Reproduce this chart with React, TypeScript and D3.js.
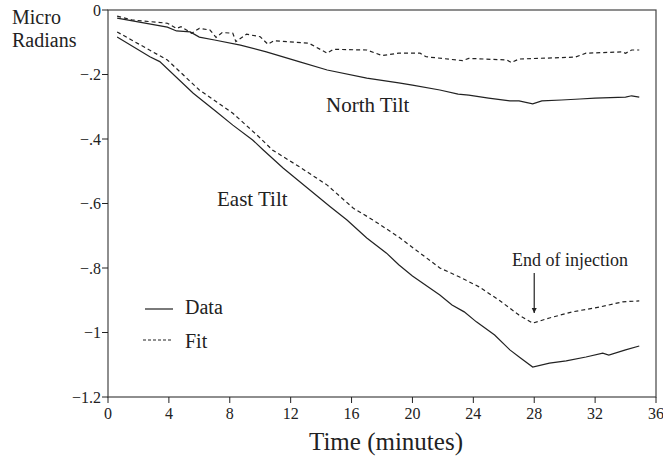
import React from "react";
import * as d3 from "d3";

const WIDTH = 663;
const HEIGHT = 458;
const M = { left: 108, top: 10, right: 656, bottom: 397 };

// [minutes, micro radians]
const northData: [number, number][] = [
  [0.6, -0.025], [3.9, -0.053], [4.5, -0.065], [5.4, -0.068], [6.0, -0.084],
  [7.0, -0.093], [8.7, -0.109], [10.4, -0.13], [12.6, -0.161], [14.4, -0.186],
  [17.0, -0.211], [19.1, -0.226], [20.0, -0.233], [21.8, -0.248], [23.0, -0.261],
  [23.7, -0.264], [25.0, -0.273], [26.4, -0.282], [27.0, -0.282], [27.9, -0.291],
  [28.5, -0.282], [29.8, -0.279], [31.0, -0.276], [32.0, -0.273], [34.0, -0.27],
  [34.4, -0.266], [34.9, -0.27],
];

const northFit: [number, number][] = [
  [0.6, -0.019], [1.6, -0.031], [3.9, -0.041], [4.5, -0.057], [4.8, -0.052],
  [5.5, -0.072], [6.0, -0.057], [6.7, -0.062], [7.1, -0.085], [7.5, -0.07],
  [8.2, -0.072], [8.4, -0.098], [9.1, -0.075], [10.0, -0.083], [10.5, -0.106],
  [10.9, -0.095], [13.2, -0.103], [14.4, -0.134], [14.8, -0.122], [17.0, -0.124],
  [18.0, -0.141], [19.1, -0.134], [20.5, -0.134], [20.9, -0.145], [23.3, -0.157],
  [23.7, -0.15], [26.2, -0.155], [26.5, -0.163], [27.0, -0.152], [30.7, -0.146],
  [31.4, -0.134], [33.8, -0.13], [34.0, -0.134], [34.4, -0.124], [34.9, -0.124],
];

const eastData: [number, number][] = [
  [0.6, -0.084], [2.75, -0.145], [3.4, -0.16], [5.6, -0.258], [7.1, -0.315],
  [8.2, -0.357], [9.5, -0.403], [10.2, -0.434], [11.5, -0.49], [13.0, -0.548],
  [14.6, -0.61], [15.7, -0.651], [17.0, -0.707], [18.3, -0.754], [19.1, -0.79],
  [20.0, -0.825], [21.8, -0.884], [22.6, -0.915], [23.4, -0.936], [24.2, -0.967],
  [25.4, -1.008], [26.4, -1.054], [27.1, -1.079], [27.9, -1.107], [29.0, -1.095],
  [30.1, -1.088], [31.4, -1.076], [32.5, -1.064], [32.9, -1.07], [34.0, -1.054],
  [34.9, -1.042],
];

const eastFit: [number, number][] = [
  [0.6, -0.068], [3.9, -0.155], [6.0, -0.248], [8.2, -0.32], [10.0, -0.397],
  [10.8, -0.434], [12.6, -0.487], [14.4, -0.543], [16.1, -0.614], [17.4, -0.651],
  [19.1, -0.704], [21.8, -0.8], [23.1, -0.828], [24.4, -0.859], [25.7, -0.9],
  [27.0, -0.946], [27.9, -0.971], [29.0, -0.955], [30.5, -0.936], [32.3, -0.921],
  [33.8, -0.905], [34.9, -0.902],
];

const xTicks = [0, 4, 8, 12, 16, 20, 24, 28, 32, 36];
const yTicks = [0, -0.2, -0.4, -0.6, -0.8, -1, -1.2];
const yTickLabels = ["0", "\u2212.2", "\u2212.4", "\u2212.6", "\u2212.8", "\u22121", "\u22121.2"];
const injectionEnd = 28;

const FONT = "'Liberation Serif', 'Times New Roman', serif";
const INK = "#222";

export default function App() {
  const x = d3.scaleLinear().domain([0, 36]).range([M.left, M.right]);
  const y = d3.scaleLinear().domain([0, -1.2]).range([M.top, M.bottom]);
  const line = d3
    .line<[number, number]>()
    .x((d) => x(d[0]))
    .y((d) => y(d[1]));

  const series = [
    { data: northData, dash: undefined },
    { data: northFit, dash: "4,3" },
    { data: eastData, dash: undefined },
    { data: eastFit, dash: "4,3" },
  ];

  const arrowX = x(injectionEnd);

  return (
    <svg
      width={WIDTH}
      height={HEIGHT}
      style={{ position: "absolute", left: 0, top: 0, background: "#fff" }}
      fontFamily={FONT}
    >
      <defs>
        <marker
          id="arrowhead"
          viewBox="0 0 10 10"
          refX="10"
          refY="5"
          markerWidth="5"
          markerHeight="8"
          orient="auto"
          markerUnits="userSpaceOnUse"
        >
          <path d="M0,0 L10,5 L0,10 z" fill={INK} />
        </marker>
      </defs>

      {/* frame */}
      <rect
        x={M.left}
        y={M.top}
        width={M.right - M.left}
        height={M.bottom - M.top}
        fill="none"
        stroke="#444"
        strokeWidth={1.2}
      />

      {/* y axis */}
      {yTicks.map((t, i) => (
        <g key={t}>
          <line x1={M.left - 6} x2={M.left} y1={y(t)} y2={y(t)} stroke={INK} />
          <text
            x={M.left - 7}
            y={y(t)}
            dy="0.35em"
            textAnchor="end"
            fontSize={16}
            fill={INK}
          >
            {yTickLabels[i]}
          </text>
        </g>
      ))}
      <text x={12} y={24} fontSize={20} fill={INK}>Micro</text>
      <text x={12} y={47} fontSize={20} fill={INK}>Radians</text>

      {/* x axis */}
      {xTicks.map((t) => (
        <g key={t}>
          <line x1={x(t)} x2={x(t)} y1={M.bottom} y2={M.bottom + 6} stroke={INK} />
          <text x={x(t)} y={M.bottom + 22} textAnchor="middle" fontSize={16} fill={INK}>
            {t}
          </text>
        </g>
      ))}
      <text x={386} y={450} textAnchor="middle" fontSize={25} fill={INK}>
        Time (minutes)
      </text>

      {/* series */}
      {series.map((s, i) => (
        <path
          key={i}
          d={line(s.data) || ""}
          fill="none"
          stroke={INK}
          strokeWidth={1.2}
          strokeDasharray={s.dash}
        />
      ))}

      {/* labels */}
      <text x={326} y={112} fontSize={21} fill={INK}>North Tilt</text>
      <text x={217} y={206} fontSize={21} fill={INK}>East Tilt</text>
      <text x={512} y={266} fontSize={18} fill={INK}>
        End of injection
      </text>
      <line
        x1={arrowX}
        x2={arrowX}
        y1={273}
        y2={313}
        stroke={INK}
        strokeWidth={1.2}
        markerEnd="url(#arrowhead)"
      />

      {/* legend */}
      <line x1={145} x2={173} y1={309} y2={309} stroke={INK} strokeWidth={1.2} />
      <text x={185} y={314} fontSize={20} fill={INK}>Data</text>
      <line x1={143} x2={173} y1={340} y2={340} stroke={INK} strokeWidth={1.2} strokeDasharray="3,2" />
      <text x={185} y={348} fontSize={20} fill={INK}>Fit</text>
    </svg>
  );
}
